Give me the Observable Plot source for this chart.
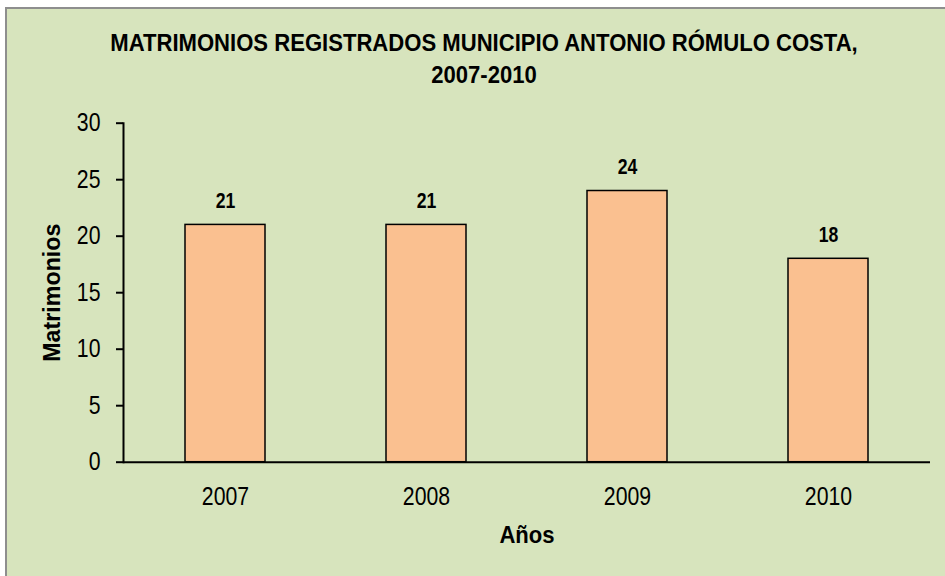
<!DOCTYPE html>
<html><head><meta charset="utf-8">
<script src="https://cdn.jsdelivr.net/npm/d3@7"></script>
<script src="https://cdn.jsdelivr.net/npm/@observablehq/plot@0.6"></script>
<style>
html,body{margin:0;padding:0;background:#fff;}
#wrap{position:relative;width:945px;height:576px;overflow:hidden;}
#bg{position:absolute;left:5px;top:7px;right:-10px;bottom:-10px;background:#d7e4bd;border-left:2px solid #8e8e8e;border-top:2px solid #8e8e8e;}
#title{position:absolute;left:0;top:27.4px;width:968px;text-align:center;font-weight:bold;font-size:24px;font-family:"Liberation Sans",Arial,sans-serif;line-height:31.6px;color:#000;transform:scaleX(0.92);transform-origin:484px 0;}
#chart{position:absolute;left:0;top:0;}
</style></head>
<body>
<div id="wrap">
  <div id="bg"></div>
  <div id="chart"></div>
  <div id="title">MATRIMONIOS REGISTRADOS MUNICIPIO ANTONIO RÓMULO COSTA,<br>2007-2010</div>
</div>
<script>
const years = ["2007", "2008", "2009", "2010"];
const marriages = [21, 21, 24, 18];
const yTicks = [0, 5, 10, 15, 20, 25, 30];
const xTitle = "Años";
const yTitle = "Matrimonios";

const data = years.map((y, i) => ({year: y, value: marriages[i]}));
const FONT = '"Liberation Sans",Arial,sans-serif';

const plot = Plot.plot({
  width: 945,
  height: 576,
  marginLeft: 123,
  marginRight: 15,
  marginTop: 122.7,
  marginBottom: 114.3,
  style: {background: "transparent", fontFamily: FONT, color: "#000", overflow: "visible"},
  x: {domain: years, paddingInner: 0.6, paddingOuter: 0.3},
  y: {domain: [0, 30], ticks: yTicks},
  marks: [
    Plot.barY(data, {x: "year", y: "value", fill: "#fac090", stroke: "#000", strokeWidth: 1.5}),
    Plot.ruleY([0], {stroke: "#000", strokeWidth: 2}),
    Plot.frame({anchor: "left", stroke: "#000", strokeWidth: 2}),
    Plot.axisY({ticks: yTicks, tickSize: 7, tickPadding: 16, fontSize: 25, label: null, strokeWidth: 2, className: "cond85"}),
    Plot.axisX({tickSize: 0, tickPadding: 25, fontSize: 25, label: null, className: "cond85"}),
    Plot.text(data, {x: "year", y: "value", text: d => String(d.value), lineAnchor: "bottom", dy: -16.7, fontWeight: "bold", fontSize: 22, className: "cond80"}),
    Plot.text([xTitle], {frameAnchor: "bottom", lineAnchor: "bottom", textAnchor: "middle", dy: 81, fontWeight: "bold", fontSize: 24, className: "cond92"}),
    Plot.text([yTitle], {frameAnchor: "left", rotate: -90, textAnchor: "middle", lineAnchor: "middle", dx: -71, fontWeight: "bold", fontSize: 24, className: "cond97"})
  ]
});

// horizontally condense glyphs around each label's own anchor point (Arial Narrow look)
const factors = {cond85: 0.85, cond80: 0.8, cond92: 0.92, cond97: 0.97};
for (const [cls, s] of Object.entries(factors)) {
  plot.querySelectorAll(`.${cls} text`).forEach(t => {
    const tr = t.getAttribute("transform") || "";
    t.setAttribute("transform", `${tr} scale(${s},1)`);
  });
}
document.getElementById("chart").appendChild(plot);
</script>
</body></html>
